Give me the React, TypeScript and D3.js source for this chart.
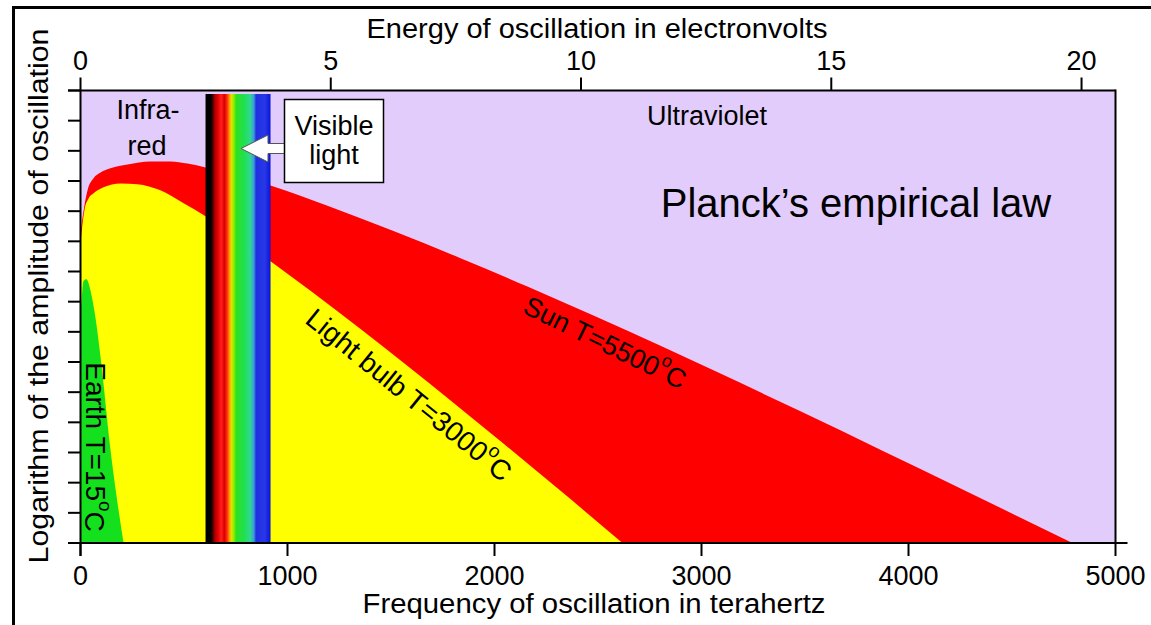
import React from 'react';
import * as d3 from 'd3';

// ---------- data (frequency in THz, log amplitude in decades above the bottom) ----------
const freqTicks = [0, 1000, 2000, 3000, 4000, 5000];
const energyTicks = [0, 5, 10, 15, 20];
const levelTicks = [0, 1, 2, 3, 4, 5, 6, 7, 8, 9, 10, 11, 12, 13, 14, 15];

const sunFreq = [0, 19, 34, 63, 97, 145, 227, 338, 435, 517, 604, 758, 918, 1193, 1512, 1836, 2159, 2478, 2802, 3068, 3473, 3874, 4242, 4792];
const sunLog = [10.3, 11.19, 11.69, 12.09, 12.28, 12.42, 12.55, 12.65, 12.65, 12.58, 12.45, 12.19, 11.85, 11.18, 10.34, 9.44, 8.5, 7.54, 6.54, 5.69, 4.38, 3.06, 1.84, 0];

const bulbFreq = [0, 19, 39, 63, 111, 193, 275, 386, 498, 604, 758, 918, 1111, 1353, 1594, 1773, 2034, 2319, 2618];
const bulbLog = [9.95, 11.03, 11.42, 11.59, 11.79, 11.92, 11.89, 11.69, 11.26, 10.83, 10.13, 9.34, 8.36, 7.09, 5.79, 4.81, 3.35, 1.73, 0];

const earthFreq = [0, 5, 14, 29, 39, 48, 72, 97, 145, 208];
const earthLog = [7.6, 8.05, 8.68, 8.74, 8.61, 8.38, 7.48, 6.16, 3.08, 0];

const spectrumFreq = [604, 630, 638, 650, 665, 680, 695, 708, 718, 728, 740, 752, 790, 820, 838, 848, 890, 918];
const spectrumColor = ['#000000', '#000000', '#400000', '#b00000', '#e80000', '#ff2020', '#d80000', '#ff2a10', '#ff8800', '#e8e000', '#90f000', '#30e020', '#20e050', '#30d890', '#3a9ad8', '#2030e0', '#2838e8', '#0a14d8'];

const EV_PER_THZ = 0.0041357;

const FONT = "'Liberation Sans', Arial, Helvetica, sans-serif";

export default function App() {
  const W = 1151, H = 625;
  const L = 80.5, R = 1115.5, T = 90.5, B = 543;

  const x = d3.scaleLinear().domain([0, 5000]).range([L, R]);
  const xe = d3.scaleLinear().domain([0, 5000 * EV_PER_THZ]).range([L, R]);
  const y = d3.scaleLinear().domain([0, 15]).range([B, T]);

  const area = d3.area<[number, number]>()
    .x(d => x(d[0]))
    .y0(y(0))
    .y1(d => y(d[1]))
    .curve(d3.curveMonotoneX);

  const zip = (a: number[], b: number[]) => a.map((v, i) => [v, b[i]] as [number, number]);
  const sunPath = area(zip(sunFreq, sunLog)) || '';
  const bulbPath = area(zip(bulbFreq, bulbLog)) || '';
  const earthPath = area(zip(earthFreq, earthLog)) || '';

  const bandX0 = x(spectrumFreq[0]);
  const bandX1 = x(spectrumFreq[spectrumFreq.length - 1]);
  const bandSpan = spectrumFreq[spectrumFreq.length - 1] - spectrumFreq[0];

  // annotation box / arrow
  const boxX = 284.5, boxY = 99.5, boxW = 99, boxH = 83;
  const ay = 148.5;
  const tipX = 241, headX = 268;
  const arrowPts = [
    [tipX, ay], [headX, ay - 13.5], [headX, ay - 5], [boxX, ay - 5],
    [boxX, ay + 5], [headX, ay + 5], [headX, ay + 13.5],
  ].map(p => p.join(',')).join(' ');

  const txt = { fontFamily: FONT, fill: '#000' } as const;

  return (
    <svg width={W} height={H} viewBox={`0 0 ${W} ${H}`} style={{ position: 'absolute', left: 0, top: 0, background: '#fff' }}>
      <defs>
        <linearGradient id="spec" x1="0" x2="1" y1="0" y2="0">
          {spectrumFreq.map((f, i) => (
            <stop key={i} offset={(f - spectrumFreq[0]) / bandSpan} stopColor={spectrumColor[i]} />
          ))}
        </linearGradient>
        <clipPath id="plot">
          <rect x={L} y={T} width={R - L} height={B - T} />
        </clipPath>
      </defs>

      {/* outer frame */}
      <rect x={13.5} y={7.5} width={1400} height={800} fill="none" stroke="#000" strokeWidth={3} />

      {/* plot background */}
      <rect x={L} y={T} width={R - L} height={B - T} fill="#E2CCFC" />

      <g clipPath="url(#plot)">
        <path d={sunPath} fill="#FF0000" />
        <path d={bulbPath} fill="#FFFF00" />
        <path d={earthPath} fill="#14E01E" />
        <rect x={bandX0} y={T + 3.5} width={bandX1 - bandX0} height={B - T - 3.5} fill="url(#spec)" />
      </g>

      {/* region labels */}
      <text x={148} y={119} textAnchor="middle" fontSize={27} style={txt}>Infra-</text>
      <text x={147} y={155} textAnchor="middle" fontSize={27} style={txt}>red</text>
      <text x={707} y={125} textAnchor="middle" fontSize={27} style={txt}>Ultraviolet</text>
      <text x={856} y={217} textAnchor="middle" fontSize={40} style={txt}>Planck’s empirical law</text>

      {/* visible light box and arrow */}
      <polygon points={arrowPts} fill="#fff" stroke="#555" strokeWidth={1} />
      <rect x={boxX} y={boxY} width={boxW} height={boxH} fill="#fff" stroke="#000" strokeWidth={1.5} />
      <text x={boxX + boxW / 2} y={135} textAnchor="middle" fontSize={27} style={txt}>Visible</text>
      <text x={boxX + boxW / 2} y={164} textAnchor="middle" fontSize={27} style={txt}>light</text>

      {/* curve labels */}
      <text transform="translate(605,343) rotate(26)" textAnchor="middle" dominantBaseline="central" fontSize={27} style={txt}>
        Sun T=5500<tspan fontSize={18} dy={-11}>o</tspan><tspan dy={11}>C</tspan>
      </text>
      <text transform="translate(409,395) rotate(39)" textAnchor="middle" dominantBaseline="central" fontSize={28} style={txt}>
        Light bulb T=3000<tspan fontSize={19} dy={-11}>o</tspan><tspan dy={11}>C</tspan>
      </text>
      <text transform="translate(95,447) rotate(90)" textAnchor="middle" dominantBaseline="central" fontSize={28} style={txt}>
        Earth T=15<tspan fontSize={19} dy={-11}>o</tspan><tspan dy={11}>C</tspan>
      </text>

      {/* axes */}
      <g stroke="#000" strokeWidth={2} fill="none">
        <line x1={L} y1={T} x2={L} y2={B + 13} />
        {levelTicks.map(v => (
          <line key={'l' + v} x1={L - 12.5} y1={y(v)} x2={L} y2={y(v)} />
        ))}
        <line x1={L - 12.5} y1={B} x2={R + 12} y2={B} />
        {freqTicks.map(f => (
          <line key={'b' + f} x1={x(f)} y1={B} x2={x(f)} y2={B + 13} />
        ))}
        <line x1={L - 12.5} y1={T} x2={R} y2={T} />
        {energyTicks.map(e => (
          <line key={'t' + e} x1={xe(e)} y1={T - 13} x2={xe(e)} y2={T} />
        ))}
        <line x1={R} y1={T - 1} x2={R} y2={B} />
      </g>

      {/* tick labels */}
      {freqTicks.map(f => (
        <text key={'bl' + f} x={x(f)} y={585} textAnchor="middle" fontSize={27} style={txt}>{f}</text>
      ))}
      {energyTicks.map(e => (
        <text key={'tl' + e} x={xe(e)} y={70} textAnchor="middle" fontSize={27} style={txt}>{e}</text>
      ))}

      {/* axis titles */}
      <text x={597} y={38} textAnchor="middle" fontSize={27} textLength={461} lengthAdjust="spacingAndGlyphs" style={txt}>
        Energy of oscillation in electronvolts
      </text>
      <text x={594} y={613} textAnchor="middle" fontSize={27} textLength={463} lengthAdjust="spacingAndGlyphs" style={txt}>
        Frequency of oscillation in terahertz
      </text>
      <text transform="translate(48,296) rotate(-90)" textAnchor="middle" fontSize={27} textLength={535} lengthAdjust="spacingAndGlyphs" style={txt}>
        Logarithm of the amplitude of oscillation
      </text>
    </svg>
  );
}
